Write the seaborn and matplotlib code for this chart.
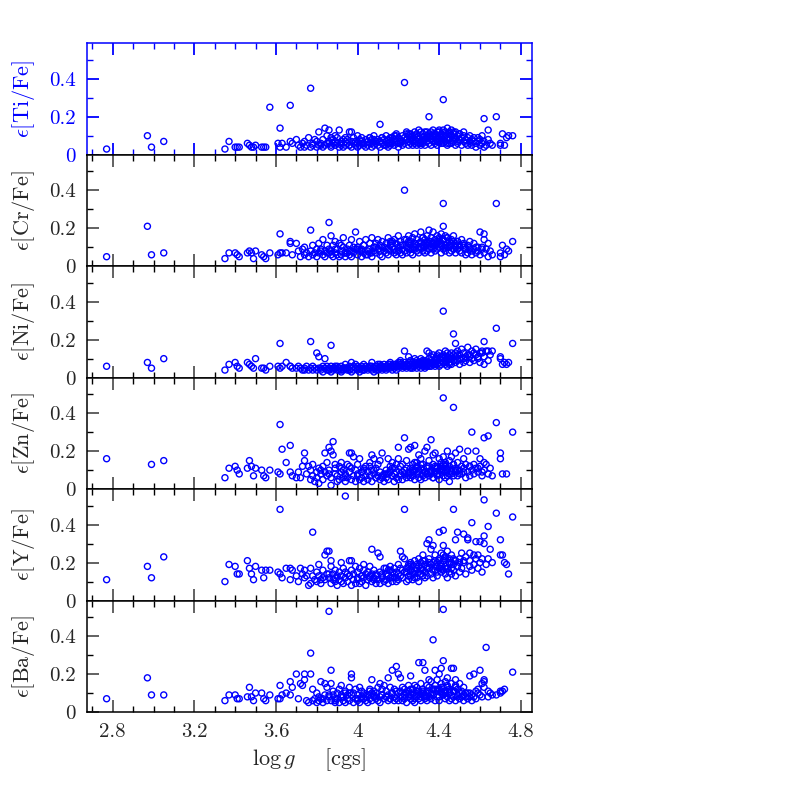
import numpy as np
import pandas as pd
import matplotlib
matplotlib.use("Agg")
import matplotlib.pyplot as plt
import seaborn as sns
from matplotlib.ticker import MultipleLocator

# ---------------- data ----------------
logg = [
    2.77, 2.97, 2.99, 3.05, 3.35, 3.37, 3.40, 3.41, 3.42, 3.46,
    3.47, 3.48, 3.49, 3.50, 3.53, 3.54, 3.55, 3.57, 3.61, 3.62,
    3.62, 3.63, 3.65, 3.67, 3.67, 3.68, 3.70, 3.71, 3.72, 3.73,
    3.74, 3.74, 3.75, 3.76, 3.77, 3.77, 3.78, 3.78, 3.79, 3.80,
    3.80, 3.81, 3.81, 3.82, 3.83, 3.83, 3.84, 3.84, 3.85, 3.85,
    3.86, 3.86, 3.87, 3.87, 3.87, 3.88, 3.88, 3.89, 3.89, 3.90,
    3.90, 3.91, 3.91, 3.92, 3.92, 3.93, 3.93, 3.94, 3.94, 3.95,
    3.95, 3.96, 3.96, 3.97, 3.97, 3.97, 3.98, 3.98, 3.99, 3.99,
    4.00, 4.00, 4.01, 4.01, 4.02, 4.02, 4.03, 4.03, 4.04, 4.04,
    4.05, 4.05, 4.06, 4.06, 4.07, 4.07, 4.07, 4.08, 4.08, 4.09,
    4.09, 4.10, 4.10, 4.11, 4.11, 4.11, 4.12, 4.12, 4.13, 4.13,
    4.14, 4.14, 4.15, 4.15, 4.15, 4.16, 4.16, 4.17, 4.17, 4.18,
    4.18, 4.18, 4.19, 4.19, 4.20, 4.20, 4.20, 4.21, 4.21, 4.22,
    4.22, 4.22, 4.23, 4.23, 4.23, 4.24, 4.24, 4.25, 4.25, 4.25,
    4.26, 4.26, 4.26, 4.27, 4.27, 4.27, 4.28, 4.28, 4.28, 4.29,
    4.29, 4.29, 4.30, 4.30, 4.30, 4.31, 4.31, 4.31, 4.32, 4.32,
    4.32, 4.33, 4.33, 4.33, 4.34, 4.34, 4.34, 4.35, 4.35, 4.35,
    4.36, 4.36, 4.36, 4.37, 4.37, 4.37, 4.38, 4.38, 4.38, 4.39,
    4.39, 4.39, 4.40, 4.40, 4.40, 4.41, 4.41, 4.41, 4.42, 4.42,
    4.42, 4.42, 4.43, 4.43, 4.43, 4.44, 4.44, 4.44, 4.45, 4.45,
    4.45, 4.46, 4.46, 4.46, 4.47, 4.47, 4.47, 4.48, 4.48, 4.48,
    4.49, 4.49, 4.50, 4.50, 4.51, 4.51, 4.52, 4.52, 4.53, 4.53,
    4.54, 4.54, 4.55, 4.55, 4.56, 4.56, 4.57, 4.57, 4.58, 4.58,
    4.59, 4.60, 4.60, 4.61, 4.62, 4.62, 4.63, 4.64, 4.64, 4.65,
    4.66, 4.68, 4.70, 4.70, 4.71, 4.72, 4.73, 4.74, 4.76, 4.62,
    4.12, 4.16, 4.19, 4.21, 4.24, 4.26, 4.28, 4.30, 4.32, 4.34,
    4.36, 4.38, 4.40, 4.41, 4.43, 4.44, 4.46, 4.47, 4.49, 4.50,
    3.96, 4.00, 4.03, 4.06, 4.09, 4.35, 4.39, 4.42, 4.45, 4.48,
    3.82, 3.86, 3.89, 3.92, 3.94, 4.02, 4.08, 4.14, 4.17, 4.37,
    4.33, 4.31, 4.27, 4.25, 4.43, 4.41, 4.52, 4.55, 4.59, 4.61,
]

eps_ti = [
    0.03, 0.10, 0.04, 0.07, 0.03, 0.07, 0.04, 0.04, 0.04, 0.06,
    0.05, 0.04, 0.04, 0.05, 0.04, 0.04, 0.04, 0.25, 0.06, 0.04,
    0.14, 0.06, 0.04, 0.26, 0.07, 0.06, 0.08, 0.05, 0.04, 0.06,
    0.04, 0.07, 0.05, 0.09, 0.35, 0.04, 0.06, 0.05, 0.08, 0.04,
    0.07, 0.05, 0.12, 0.06, 0.04, 0.08, 0.05, 0.14, 0.06, 0.10,
    0.07, 0.13, 0.05, 0.09, 0.04, 0.06, 0.08, 0.05, 0.07, 0.06,
    0.09, 0.04, 0.13, 0.06, 0.05, 0.08, 0.04, 0.07, 0.05, 0.06,
    0.08, 0.12, 0.05, 0.12, 0.07, 0.04, 0.06, 0.09, 0.05, 0.07,
    0.06, 0.04, 0.08, 0.05, 0.07, 0.09, 0.05, 0.06, 0.08, 0.04,
    0.07, 0.05, 0.09, 0.06, 0.04, 0.08, 0.06, 0.10, 0.05, 0.07,
    0.06, 0.08, 0.05, 0.16, 0.07, 0.04, 0.09, 0.06, 0.08, 0.05,
    0.07, 0.10, 0.06, 0.04, 0.08, 0.05, 0.09, 0.07, 0.06, 0.10,
    0.05, 0.08, 0.07, 0.11, 0.06, 0.09, 0.04, 0.08, 0.06, 0.10,
    0.07, 0.05, 0.38, 0.09, 0.06, 0.11, 0.08, 0.05, 0.10, 0.07,
    0.09, 0.06, 0.11, 0.05, 0.08, 0.10, 0.07, 0.12, 0.06, 0.09,
    0.05, 0.11, 0.08, 0.06, 0.10, 0.07, 0.12, 0.05, 0.09, 0.11,
    0.06, 0.08, 0.12, 0.05, 0.10, 0.07, 0.09, 0.20, 0.11, 0.06,
    0.08, 0.12, 0.05, 0.10, 0.07, 0.13, 0.09, 0.06, 0.11, 0.08,
    0.12, 0.05, 0.10, 0.07, 0.13, 0.09, 0.06, 0.11, 0.29, 0.08,
    0.13, 0.06, 0.10, 0.12, 0.07, 0.09, 0.14, 0.05, 0.11, 0.08,
    0.12, 0.06, 0.10, 0.13, 0.07, 0.09, 0.11, 0.05, 0.12, 0.08,
    0.10, 0.06, 0.11, 0.08, 0.05, 0.09, 0.07, 0.10, 0.06, 0.08,
    0.05, 0.09, 0.07, 0.06, 0.08, 0.05, 0.07, 0.09, 0.06, 0.04,
    0.07, 0.05, 0.08, 0.06, 0.19, 0.07, 0.05, 0.08, 0.13, 0.06,
    0.05, 0.20, 0.06, 0.05, 0.11, 0.05, 0.09, 0.10, 0.10, 0.04,
    0.09, 0.06, 0.10, 0.07, 0.12, 0.08, 0.10, 0.13, 0.07, 0.12,
    0.10, 0.07, 0.12, 0.09, 0.11, 0.06, 0.10, 0.12, 0.07, 0.11,
    0.05, 0.10, 0.06, 0.09, 0.07, 0.09, 0.07, 0.10, 0.06, 0.09,
    0.05, 0.06, 0.10, 0.07, 0.09, 0.06, 0.08, 0.05, 0.09, 0.11,
    0.08, 0.06, 0.07, 0.11, 0.10, 0.07, 0.12, 0.10, 0.09, 0.10,
]

eps_cr = [
    0.05, 0.21, 0.06, 0.07, 0.04, 0.07, 0.07, 0.06, 0.05, 0.07,
    0.08, 0.07, 0.04, 0.08, 0.06, 0.05, 0.04, 0.07, 0.06, 0.07,
    0.17, 0.07, 0.07, 0.13, 0.12, 0.06, 0.12, 0.08, 0.05, 0.09,
    0.06, 0.10, 0.07, 0.05, 0.19, 0.08, 0.06, 0.11, 0.07, 0.09,
    0.05, 0.12, 0.07, 0.09, 0.06, 0.14, 0.08, 0.05, 0.11, 0.07,
    0.23, 0.09, 0.06, 0.16, 0.08, 0.05, 0.11, 0.07, 0.13, 0.06,
    0.09, 0.05, 0.12, 0.08, 0.06, 0.10, 0.15, 0.07, 0.05, 0.09,
    0.07, 0.11, 0.06, 0.14, 0.08, 0.05, 0.10, 0.07, 0.18, 0.09,
    0.06, 0.10, 0.08, 0.13, 0.05, 0.09, 0.07, 0.11, 0.06, 0.14,
    0.08, 0.06, 0.12, 0.09, 0.07, 0.15, 0.05, 0.10, 0.08, 0.12,
    0.07, 0.09, 0.14, 0.06, 0.11, 0.08, 0.13, 0.05, 0.10, 0.08,
    0.12, 0.07, 0.09, 0.15, 0.06, 0.11, 0.08, 0.13, 0.10, 0.07,
    0.14, 0.09, 0.06, 0.12, 0.08, 0.16, 0.10, 0.07, 0.13, 0.09,
    0.11, 0.06, 0.40, 0.08, 0.14, 0.10, 0.07, 0.12, 0.16, 0.09,
    0.13, 0.07, 0.11, 0.09, 0.15, 0.06, 0.12, 0.10, 0.17, 0.08,
    0.11, 0.14, 0.07, 0.12, 0.09, 0.18, 0.10, 0.13, 0.08, 0.15,
    0.11, 0.07, 0.14, 0.10, 0.16, 0.08, 0.12, 0.19, 0.09, 0.13,
    0.10, 0.15, 0.07, 0.18, 0.12, 0.09, 0.14, 0.11, 0.08, 0.16,
    0.12, 0.09, 0.15, 0.10, 0.13, 0.07, 0.17, 0.11, 0.33, 0.21,
    0.09, 0.14, 0.11, 0.16, 0.08, 0.12, 0.15, 0.10, 0.13, 0.07,
    0.11, 0.14, 0.08, 0.12, 0.16, 0.09, 0.13, 0.10, 0.07, 0.12,
    0.09, 0.13, 0.08, 0.11, 0.14, 0.07, 0.10, 0.12, 0.06, 0.09,
    0.11, 0.07, 0.10, 0.13, 0.08, 0.06, 0.09, 0.12, 0.07, 0.10,
    0.08, 0.18, 0.06, 0.10, 0.17, 0.07, 0.09, 0.12, 0.05, 0.08,
    0.06, 0.33, 0.07, 0.05, 0.11, 0.06, 0.09, 0.08, 0.13, 0.14,
    0.10, 0.13, 0.08, 0.11, 0.14, 0.09, 0.12, 0.10, 0.15, 0.11,
    0.13, 0.10, 0.14, 0.12, 0.10, 0.15, 0.11, 0.09, 0.13, 0.10,
    0.08, 0.09, 0.11, 0.07, 0.10, 0.12, 0.13, 0.14, 0.10, 0.11,
    0.08, 0.07, 0.09, 0.11, 0.07, 0.08, 0.10, 0.09, 0.12, 0.12,
    0.12, 0.10, 0.09, 0.13, 0.11, 0.12, 0.11, 0.09, 0.10, 0.09,
]

eps_ni = [
    0.06, 0.08, 0.05, 0.10, 0.04, 0.07, 0.08, 0.06, 0.05, 0.08,
    0.07, 0.06, 0.05, 0.10, 0.05, 0.05, 0.04, 0.06, 0.06, 0.05,
    0.18, 0.06, 0.08, 0.06, 0.06, 0.05, 0.05, 0.06, 0.05, 0.04,
    0.05, 0.04, 0.06, 0.04, 0.19, 0.05, 0.04, 0.06, 0.05, 0.13,
    0.04, 0.05, 0.11, 0.04, 0.06, 0.03, 0.05, 0.10, 0.04, 0.06,
    0.05, 0.04, 0.17, 0.06, 0.03, 0.05, 0.04, 0.06, 0.05, 0.04,
    0.06, 0.04, 0.05, 0.03, 0.06, 0.05, 0.04, 0.07, 0.05, 0.04,
    0.05, 0.06, 0.04, 0.08, 0.05, 0.03, 0.06, 0.04, 0.05, 0.07,
    0.04, 0.06, 0.05, 0.03, 0.06, 0.05, 0.04, 0.07, 0.05, 0.06,
    0.05, 0.04, 0.06, 0.05, 0.08, 0.04, 0.06, 0.05, 0.03, 0.06,
    0.05, 0.07, 0.04, 0.06, 0.05, 0.07, 0.04, 0.06, 0.05, 0.07,
    0.06, 0.04, 0.07, 0.05, 0.06, 0.08, 0.05, 0.06, 0.04, 0.07,
    0.06, 0.05, 0.07, 0.04, 0.08, 0.06, 0.05, 0.07, 0.09, 0.06,
    0.05, 0.07, 0.14, 0.06, 0.08, 0.05, 0.07, 0.11, 0.06, 0.08,
    0.07, 0.05, 0.09, 0.06, 0.08, 0.05, 0.07, 0.10, 0.06, 0.08,
    0.05, 0.09, 0.07, 0.06, 0.08, 0.05, 0.10, 0.07, 0.06, 0.09,
    0.07, 0.05, 0.09, 0.08, 0.14, 0.06, 0.08, 0.13, 0.07, 0.10,
    0.06, 0.09, 0.11, 0.07, 0.12, 0.08, 0.10, 0.06, 0.09, 0.12,
    0.07, 0.10, 0.08, 0.13, 0.06, 0.11, 0.09, 0.07, 0.35, 0.12,
    0.08, 0.10, 0.14, 0.07, 0.11, 0.09, 0.13, 0.06, 0.10, 0.12,
    0.08, 0.11, 0.07, 0.13, 0.23, 0.09, 0.12, 0.18, 0.08, 0.11,
    0.14, 0.09, 0.12, 0.07, 0.15, 0.10, 0.08, 0.13, 0.11, 0.09,
    0.12, 0.16, 0.08, 0.11, 0.14, 0.10, 0.13, 0.09, 0.12, 0.15,
    0.10, 0.13, 0.08, 0.14, 0.19, 0.11, 0.14, 0.09, 0.14, 0.12,
    0.14, 0.26, 0.11, 0.10, 0.07, 0.08, 0.07, 0.08, 0.18, 0.07,
    0.05, 0.07, 0.06, 0.08, 0.06, 0.09, 0.07, 0.08, 0.09, 0.07,
    0.08, 0.07, 0.10, 0.09, 0.08, 0.11, 0.10, 0.09, 0.12, 0.10,
    0.04, 0.05, 0.04, 0.06, 0.04, 0.06, 0.11, 0.08, 0.07, 0.13,
    0.05, 0.04, 0.05, 0.04, 0.05, 0.04, 0.05, 0.05, 0.06, 0.08,
    0.06, 0.08, 0.06, 0.07, 0.09, 0.11, 0.10, 0.12, 0.11, 0.13,
]

nan = float("nan")
eps_zn = [
    0.16, nan, 0.13, 0.15, 0.06, 0.11, 0.12, 0.10, 0.08, 0.11,
    0.15, 0.12, 0.07, 0.11, 0.10, 0.07, 0.06, 0.10, 0.09, 0.08,
    0.34, 0.21, 0.14, 0.23, 0.09, 0.07, 0.06, 0.09, 0.06, 0.12,
    0.19, 0.15, 0.08, 0.12, 0.05, 0.10, 0.07, 0.13, 0.04, 0.09,
    0.06, 0.11, 0.03, 0.08, 0.12, 0.05, 0.19, 0.09, 0.07, 0.14,
    0.22, 0.10, 0.20, 0.02, 0.06, 0.25, 0.18, 0.08, 0.11, 0.04,
    0.07, 0.12, 0.05, 0.09, 0.14, 0.06, 0.10, 0.04, 0.08, 0.13,
    0.06, 0.19, 0.09, 0.05, 0.19, 0.11, 0.07, 0.17, 0.04, 0.10,
    0.08, 0.13, 0.05, 0.16, 0.09, 0.06, 0.11, 0.04, 0.07, 0.12,
    0.09, 0.05, 0.14, 0.07, 0.18, 0.10, 0.04, 0.16, 0.08, 0.06,
    0.11, 0.07, 0.13, 0.05, 0.09, 0.15, 0.06, 0.19, 0.08, 0.04,
    0.10, 0.06, 0.16, 0.08, 0.05, 0.12, 0.09, 0.07, 0.14, 0.04,
    0.08, 0.11, 0.06, 0.09, 0.16, 0.05, 0.22, 0.07, 0.12, 0.09,
    0.05, 0.13, 0.27, 0.08, 0.10, 0.06, 0.15, 0.09, 0.07, 0.21,
    0.11, 0.22, 0.06, 0.09, 0.13, 0.07, 0.23, 0.10, 0.05, 0.14,
    0.08, 0.12, 0.06, 0.18, 0.09, 0.11, 0.05, 0.16, 0.10, 0.07,
    0.13, 0.09, 0.06, 0.20, 0.11, 0.08, 0.22, 0.12, 0.07, 0.15,
    0.10, 0.26, 0.08, 0.13, 0.06, 0.18, 0.11, 0.09, 0.19, 0.07,
    0.12, 0.08, 0.16, 0.10, 0.05, 0.14, 0.09, 0.12, 0.48, 0.07,
    0.17, 0.10, 0.06, 0.13, 0.09, 0.20, 0.11, 0.07, 0.15, 0.04,
    0.12, 0.08, 0.17, 0.10, 0.43, 0.13, 0.07, 0.19, 0.11, 0.09,
    0.14, 0.07, 0.21, 0.10, 0.12, 0.08, 0.16, 0.11, 0.06, 0.13,
    0.09, 0.20, 0.12, 0.07, 0.30, 0.10, 0.13, 0.08, 0.11, 0.20,
    0.09, 0.12, 0.16, 0.07, 0.27, 0.10, 0.13, 0.28, 0.08, 0.11,
    0.07, 0.35, 0.19, 0.16, 0.08, nan, 0.08, nan, 0.30, 0.14,
    0.07, 0.10, 0.13, 0.08, 0.11, 0.09, 0.14, 0.10, 0.08, 0.12,
    0.09, 0.12, 0.08, 0.11, 0.14, 0.10, 0.09, 0.13, 0.10, 0.08,
    0.12, 0.07, 0.10, 0.12, 0.06, 0.09, 0.11, 0.13, 0.08, 0.10,
    0.10, 0.08, 0.13, 0.11, 0.07, 0.09, 0.10, 0.08, 0.11, 0.06,
    0.09, 0.13, 0.10, 0.08, 0.12, 0.10, 0.09, 0.12, 0.11, 0.09,
]

eps_y = [
    0.11, 0.18, 0.12, 0.23, 0.10, 0.19, 0.18, 0.14, 0.14, 0.21,
    0.17, 0.14, 0.11, 0.18, 0.16, 0.12, 0.16, 0.16, 0.15, 0.14,
    0.48, 0.12, 0.17, 0.17, 0.11, 0.16, 0.13, 0.10, 0.17, 0.14,
    0.12, 0.16, 0.13, 0.08, 0.09, 0.17, 0.36, 0.13, 0.11, 0.15,
    0.10, 0.13, 0.19, 0.09, 0.12, 0.16, 0.24, 0.11, 0.14, 0.26,
    0.26, 0.12, 0.21, 0.18, 0.09, 0.14, 0.11, 0.16, 0.10, 0.13,
    0.08, 0.15, 0.11, 0.20, 0.13, 0.09, 0.17, 0.12, 0.55, 0.14,
    0.10, 0.21, 0.13, 0.08, 0.21, 0.16, 0.11, 0.14, 0.09, 0.18,
    0.12, 0.15, 0.09, 0.17, 0.13, 0.10, 0.19, 0.12, 0.14, 0.08,
    0.15, 0.11, 0.13, 0.18, 0.27, 0.10, 0.14, 0.12, 0.16, 0.09,
    0.13, 0.25, 0.11, 0.15, 0.09, 0.23, 0.14, 0.12, 0.17, 0.10,
    0.14, 0.11, 0.16, 0.09, 0.13, 0.18, 0.12, 0.15, 0.10, 0.14,
    0.17, 0.12, 0.15, 0.10, 0.14, 0.19, 0.11, 0.26, 0.13, 0.16,
    0.23, 0.12, 0.48, 0.15, 0.22, 0.10, 0.17, 0.13, 0.19, 0.11,
    0.16, 0.13, 0.20, 0.11, 0.15, 0.18, 0.12, 0.21, 0.14, 0.17,
    0.12, 0.19, 0.15, 0.22, 0.10, 0.17, 0.14, 0.20, 0.13, 0.24,
    0.16, 0.12, 0.21, 0.15, 0.30, 0.18, 0.13, 0.32, 0.17, 0.22,
    0.14, 0.19, 0.27, 0.16, 0.29, 0.12, 0.21, 0.18, 0.24, 0.15,
    0.20, 0.13, 0.36, 0.17, 0.22, 0.15, 0.25, 0.19, 0.37, 0.29,
    0.16, 0.21, 0.14, 0.23, 0.18, 0.12, 0.26, 0.17, 0.20, 0.15,
    0.22, 0.17, 0.24, 0.14, 0.48, 0.19, 0.16, 0.32, 0.21, 0.13,
    0.36, 0.18, 0.22, 0.15, 0.25, 0.17, 0.35, 0.20, 0.14, 0.23,
    0.33, 0.32, 0.18, 0.21, 0.41, 0.16, 0.24, 0.19, 0.31, 0.22,
    0.17, 0.31, 0.20, 0.15, 0.53, 0.34, 0.19, 0.39, 0.22, 0.27,
    0.20, 0.46, 0.32, 0.24, 0.24, 0.20, 0.19, 0.14, 0.44, 0.30,
    0.13, 0.16, 0.12, 0.17, 0.15, 0.19, 0.16, 0.18, 0.21, 0.17,
    0.19, 0.16, 0.21, 0.18, 0.23, 0.17, 0.20, 0.22, 0.18, 0.20,
    0.13, 0.11, 0.16, 0.12, 0.14, 0.20, 0.18, 0.24, 0.19, 0.21,
    0.11, 0.14, 0.12, 0.10, 0.15, 0.13, 0.11, 0.17, 0.12, 0.20,
    0.19, 0.16, 0.14, 0.18, 0.22, 0.17, 0.21, 0.25, 0.24, 0.22,
]

eps_ba = [
    0.07, 0.18, 0.09, 0.09, 0.06, 0.09, 0.09, 0.07, 0.07, 0.08,
    0.13, 0.08, 0.06, 0.10, 0.10, 0.07, 0.06, 0.09, 0.07, 0.07,
    0.14, 0.09, 0.10, 0.16, 0.09, 0.13, 0.20, 0.07, 0.15, 0.14,
    0.20, 0.17, 0.06, 0.05, 0.31, 0.20, 0.06, 0.12, 0.07, 0.05,
    0.10, 0.06, 0.08, 0.16, 0.07, 0.05, 0.09, 0.15, 0.06, 0.13,
    0.08, 0.53, 0.22, 0.15, 0.06, 0.09, 0.11, 0.07, 0.05, 0.10,
    0.07, 0.12, 0.05, 0.09, 0.14, 0.06, 0.08, 0.11, 0.05, 0.09,
    0.07, 0.13, 0.06, 0.20, 0.18, 0.09, 0.05, 0.10, 0.07, 0.12,
    0.06, 0.09, 0.13, 0.05, 0.08, 0.11, 0.07, 0.10, 0.06, 0.08,
    0.09, 0.05, 0.12, 0.07, 0.17, 0.10, 0.06, 0.08, 0.11, 0.07,
    0.10, 0.06, 0.13, 0.08, 0.15, 0.05, 0.09, 0.12, 0.07, 0.14,
    0.08, 0.11, 0.06, 0.18, 0.09, 0.07, 0.13, 0.22, 0.10, 0.06,
    0.12, 0.08, 0.24, 0.07, 0.10, 0.20, 0.06, 0.11, 0.18, 0.08,
    0.13, 0.06, 0.09, 0.12, 0.07, 0.10, 0.05, 0.14, 0.08, 0.11,
    0.07, 0.19, 0.09, 0.12, 0.06, 0.10, 0.14, 0.08, 0.05, 0.11,
    0.09, 0.13, 0.26, 0.07, 0.11, 0.08, 0.15, 0.06, 0.26, 0.10,
    0.12, 0.07, 0.22, 0.09, 0.14, 0.06, 0.11, 0.17, 0.08, 0.13,
    0.10, 0.16, 0.07, 0.38, 0.12, 0.09, 0.22, 0.06, 0.14, 0.11,
    0.08, 0.17, 0.12, 0.06, 0.20, 0.10, 0.15, 0.23, 0.54, 0.27,
    0.09, 0.13, 0.07, 0.16, 0.11, 0.18, 0.08, 0.14, 0.06, 0.12,
    0.10, 0.23, 0.07, 0.15, 0.11, 0.23, 0.08, 0.13, 0.17, 0.06,
    0.12, 0.09, 0.15, 0.07, 0.11, 0.08, 0.13, 0.06, 0.10, 0.08,
    0.07, 0.10, 0.08, 0.19, 0.06, 0.09, 0.20, 0.08, 0.11, 0.07,
    0.10, 0.22, 0.09, 0.15, 0.17, 0.13, 0.34, 0.08, 0.11, 0.10,
    0.09, 0.09, 0.10, 0.11, 0.11, 0.12, nan, nan, 0.21, 0.16,
    0.09, 0.07, 0.11, 0.08, 0.10, 0.12, 0.07, 0.09, 0.11, 0.08,
    0.09, 0.12, 0.08, 0.11, 0.10, 0.13, 0.09, 0.11, 0.08, 0.10,
    0.10, 0.07, 0.09, 0.11, 0.08, 0.10, 0.12, 0.09, 0.11, 0.14,
    0.07, 0.09, 0.06, 0.08, 0.10, 0.07, 0.09, 0.08, 0.10, 0.12,
    0.08, 0.10, 0.12, 0.09, 0.11, 0.13, 0.09, 0.10, 0.12, 0.08,
]

panel_labels = ["Ti", "Cr", "Ni", "Zn", "Y", "Ba"]
panel_values = [eps_ti, eps_cr, eps_ni, eps_zn, eps_y, eps_ba]
x_tick_labels = ["2.8", "3.2", "3.6", "4", "4.4", "4.8"]
y_tick_labels = ["0", "0.2", "0.4"]

# ---------------- style ----------------
sns.set_style("ticks")
plt.rcParams["font.family"] = ["cmr10", "DejaVu Serif"]
plt.rcParams["mathtext.fontset"] = "cm"
plt.rcParams["axes.formatter.use_mathtext"] = True
plt.rcParams["axes.unicode_minus"] = False

BLUE = "#0000ff"
fig = plt.figure(figsize=(7.97, 7.97), dpi=100)
gs = fig.add_gridspec(6, 1, left=0.1088, right=0.6678, top=0.9457,
                      bottom=0.1066, hspace=0.0)

xt_vals = [float(s) for s in x_tick_labels]
yt_vals = [float(s) for s in y_tick_labels]

axes = []
for i, (lab, vals) in enumerate(zip(panel_labels, panel_values)):
    ax = fig.add_subplot(gs[i, 0], sharex=axes[0] if axes else None)
    axes.append(ax)
    n = min(len(logg), len(vals))
    df = pd.DataFrame({"logg": logg[:n], "eps": vals[:n]}).dropna()
    sns.scatterplot(data=df, x="logg", y="eps", ax=ax, color=BLUE,
                    facecolors="none", edgecolor=BLUE, s=19, linewidth=1.0,
                    marker="o", legend=False, zorder=3)
    ax.set_xlim(2.6725, 4.856)
    ax.set_ylim(0, 0.5866)
    ax.xaxis.set_major_locator(MultipleLocator(0.4))
    ax.xaxis.set_minor_locator(MultipleLocator(0.1))
    ax.set_yticks(yt_vals)
    ax.set_yticklabels(y_tick_labels)
    ax.yaxis.set_minor_locator(MultipleLocator(0.1))
    tick_col = BLUE if i == 0 else "#555555"
    minor_col = BLUE if i == 0 else "black"
    ax.tick_params(which="major", direction="in", top=True, right=True,
                   length=8.5, width=1.3, color=tick_col, labelsize=15,
                   pad=8)
    ax.tick_params(which="minor", direction="in", top=True, right=True,
                   length=4.3, width=1.0, color=minor_col)
    for sp in ax.spines.values():
        sp.set_linewidth(1.1)
        sp.set_color("black")
    ax.set_xlabel("")
    ax.set_ylabel(r"$\epsilon[\mathrm{%s/Fe}]$" % lab, fontsize=16)
    ax.yaxis.set_label_coords(-0.112, 0.5)
    if i == 0:
        for s in ("left", "top", "right"):
            ax.spines[s].set_color(BLUE)
        ax.tick_params(axis="y", which="both", labelcolor=BLUE)
        ax.yaxis.label.set_color(BLUE)
    if i < 5:
        ax.tick_params(axis="x", labelbottom=False)
    else:
        ax.set_xticks(xt_vals)
        ax.set_xticklabels(x_tick_labels)
        ax.tick_params(axis="x", pad=8)
        ax.set_xlabel(r"$\log g\quad\;\;[\mathrm{cgs}]$", fontsize=16,
                      labelpad=4)

fig.savefig("out.png", dpi=100)
